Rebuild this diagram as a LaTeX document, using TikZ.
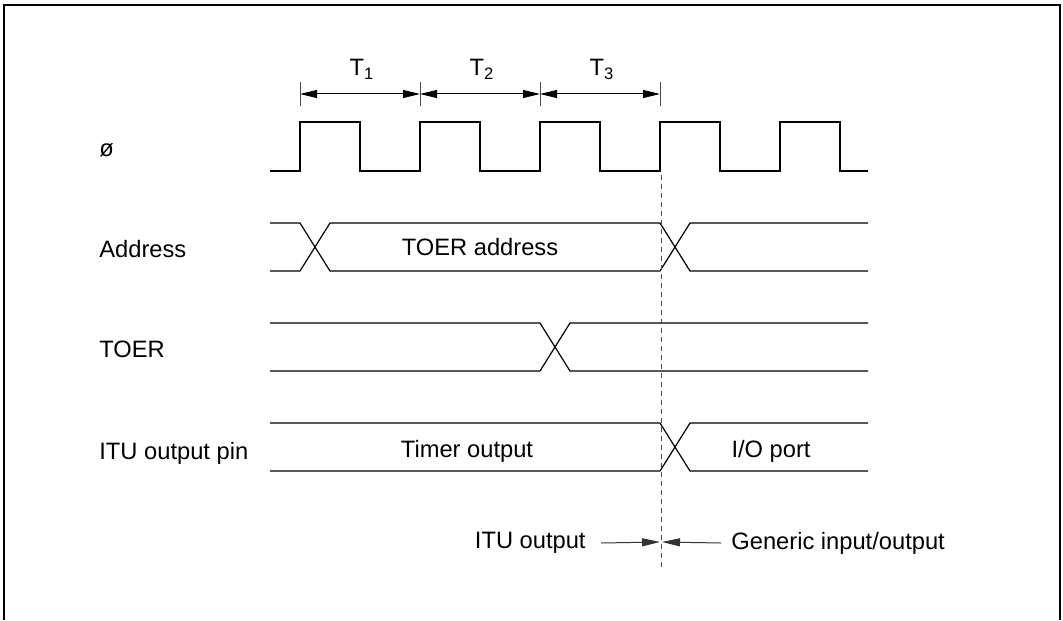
\documentclass[tikz,border=0pt]{standalone}
\usepackage{fontspec}
\setmainfont{Liberation Sans}
\usetikzlibrary{arrows.meta,positioning,calc}

\begin{document}
\begin{tikzpicture}[
    x=0.5pt, y=-0.5pt,
    wave/.style={line width=0.6pt},
    txt/.style={font=\fontsize{11.85}{14}\selectfont, inner sep=0pt},
    sig/.style={txt, anchor=base west},
    tickline/.style={line width=0.4pt, black!70},
    dimline/.style={line width=0.5pt, {Triangle[length=8.5pt,width=4pt]}-{Triangle[length=8.5pt,width=4pt]}},
    splitarrow/.style={line width=0.5pt, black!80, -{Triangle[length=9pt,width=4pt]}},
]
\useasboundingbox (0,0) rectangle (1063,620);

% Frame
\draw[line width=1pt] (3.5,620) -- (3.5,5) -- (1060,5) -- (1060,620);

% Signal names
\node[sig] (phi)  at (99,156) {ø};
\node[sig] (addr) at (99,257) {Address};
\node[sig] (toer) at (99,357) {TOER};
\node[sig] (pin)  at (99,459) {ITU output pin};

% States T1..T3
\foreach \i/\x in {0/300,1/420,2/540,3/660} {
    \coordinate (t\i) at (\x,94);
    \draw[tickline] (\x,82) -- (\x,106);
}
\foreach \i/\j in {0/1,1/2,2/3} {
    \draw[dimline] (t\i) -- (t\j);
    \node[txt, anchor=base] (lt\j) at ($(t\i)!0.5!(t\j)+(2,-18)$) {T\textsubscript{\j}};
}

% Clock
\draw[wave] (270,171) foreach \x in {300,420,540,660,780} {
    -- (\x,171) -- (\x,122) -- (\x+60,122) -- (\x+60,171) } -- (868,171);

% Address bus
\draw[wave] (270,223) -- (300,223) -- (330,271) -- (660,271) -- (690,223) -- (868,223);
\draw[wave] (270,271) -- (300,271) -- (330,223) -- (660,223) -- (690,271) -- (868,271);
\node[txt, anchor=base] (addrval) at (480,255) {TOER address};

% TOER
\draw[wave] (270,323) -- (540,323) -- (570,371) -- (868,371);
\draw[wave] (270,371) -- (540,371) -- (570,323) -- (868,323);

% ITU output pin
\draw[wave] (270,423) -- (660,423) -- (690,471) -- (868,471);
\draw[wave] (270,471) -- (660,471) -- (690,423) -- (868,423);
\node[txt, anchor=base] (timer) at (467,457) {Timer output};
\node[txt, anchor=base] (port)  at (771,457) {I/O port};

% Switch-over point
\draw[line width=0.4pt, black!70, dash pattern=on 2.5pt off 2pt] (661,175) -- (661,568);
\coordinate (split) at (661,542);
\node[txt, anchor=east] (ituout) at (586,543) {ITU output\vphantom{Gp}};
\node[txt, anchor=west] (gpio) at (731,543) {Generic input/output\vphantom{Gp}};
\draw[splitarrow] (ituout.east) ++(15,0) -- ([xshift=-0.5pt]split);
\draw[splitarrow] (gpio.west) ++(-10,0) -- ([xshift=0.5pt]split);

\end{tikzpicture}
\end{document}
